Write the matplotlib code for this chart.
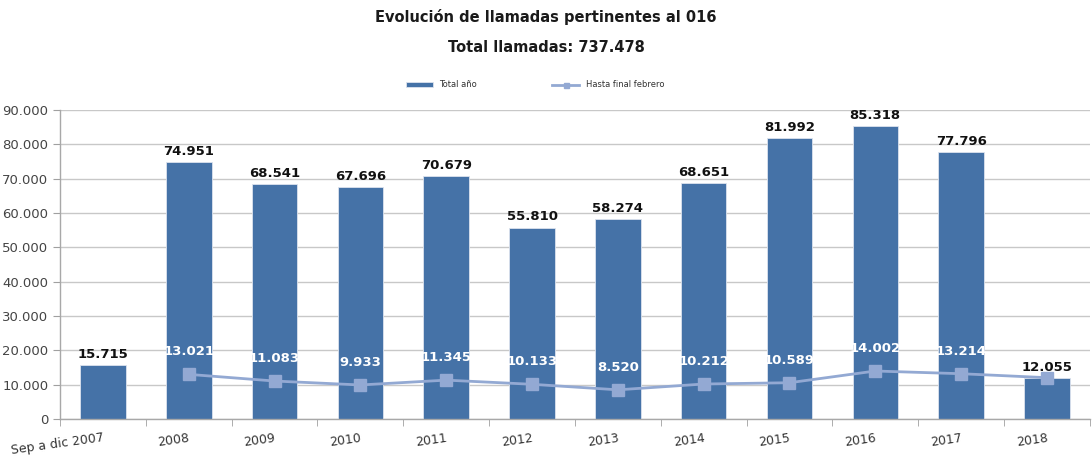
import matplotlib

matplotlib.use("Agg")
import matplotlib.pyplot as plt
from matplotlib.ticker import FixedLocator, FuncFormatter
import matplotlib.transforms as mtransforms
import numpy as np

CATEGORIES = ["Sep a dic 2007", "2008", "2009", "2010", "2011", "2012",
              "2013", "2014", "2015", "2016", "2017", "2018"]
TOTAL_YEAR = [15715, 74951, 68541, 67696, 70679, 55810,
              58274, 68651, 81992, 85318, 77796, 12055]
# line starts at 2008
FEB_VALUES = [13021, 11083, 9933, 11345, 10133, 8520,
              10212, 10589, 14002, 13214, 12055]

BAR_COLOR = "#4572A7"
LINE_COLOR = "#93A9D3"


def fmt(v):
    return f"{v:,.0f}".replace(",", ".")


plt.rc("font", family="DejaVu Sans")
fig = plt.figure(figsize=(10.92, 4.59), dpi=100)
ax = fig.add_axes([0.055, 0.087, 0.943, 0.673])

x = np.arange(len(CATEGORIES))
bars = ax.bar(x, TOTAL_YEAR, width=0.53, color=BAR_COLOR, edgecolor="#DCE3EE",
              linewidth=0.6, zorder=2, label="Total año")
for xi, v in zip(x, TOTAL_YEAR):
    ax.text(xi, v + 1200, fmt(v), ha="center", va="bottom", fontsize=9.5,
            fontweight="bold", color="#111111", zorder=5)

xl = x[1:]
line, = ax.plot(xl, FEB_VALUES, color=LINE_COLOR, linewidth=2, marker="s",
                markersize=8, markerfacecolor=LINE_COLOR,
                markeredgecolor=LINE_COLOR, zorder=3,
                label="Hasta final febrero")
for xi, v in zip(xl[:-1], FEB_VALUES[:-1]):
    ax.text(xi, v + 4700, fmt(v), ha="center", va="bottom", fontsize=9.5,
            fontweight="bold", color="white", zorder=5)

ax.set_xlim(-0.5, len(CATEGORIES) - 0.5)
ax.set_ylim(0, 90000)
ax.yaxis.set_major_locator(FixedLocator(np.arange(0, 90001, 10000)))
ax.yaxis.set_major_formatter(FuncFormatter(lambda v, p: fmt(v)))
ax.grid(True, axis="y", color="#C8C8C8", linewidth=1, zorder=0)
ax.set_axisbelow(True)

ax.set_xticks(x)
ax.set_xticklabels(CATEGORIES, rotation=8, ha="right", rotation_mode="anchor",
                   fontsize=9, color="#333333")
shift = mtransforms.ScaledTranslation(6 / 100, 0, fig.dpi_scale_trans)
for lab in ax.get_xticklabels():
    lab.set_transform(lab.get_transform() + shift)
ax.tick_params(axis="x", length=0, pad=9)
ax.set_xticks(np.arange(-0.5, len(CATEGORIES), 1), minor=True)
ax.tick_params(axis="x", which="minor", length=5, color="#A0A0A0", direction="out")
ax.tick_params(axis="y", labelsize=9.5, labelcolor="#444444", length=5,
               color="#A0A0A0", direction="out")

for side in ("top", "right"):
    ax.spines[side].set_visible(False)
for side in ("left", "bottom"):
    ax.spines[side].set_color("#A8A8A8")
    ax.spines[side].set_linewidth(1)

fig.text(0.5, 0.962, "Evolución de llamadas pertinentes al 016", ha="center",
         va="center", fontsize=10.5, fontweight="bold", color="#1a1a1a")
fig.text(0.5, 0.897, "Total llamadas: 737.478", ha="center", va="center",
         fontsize=10.5, fontweight="bold", color="#1a1a1a")

leg = fig.legend(handles=[bars, line], loc="center",
                 bbox_to_anchor=(0.49, 0.815), ncol=2, frameon=False,
                 fontsize=6, columnspacing=9, handlelength=3.2,
                 handleheight=0.5, markerscale=0.45)
for t in leg.get_texts():
    t.set_color("#333333")

fig.savefig("out.png", dpi=100)
